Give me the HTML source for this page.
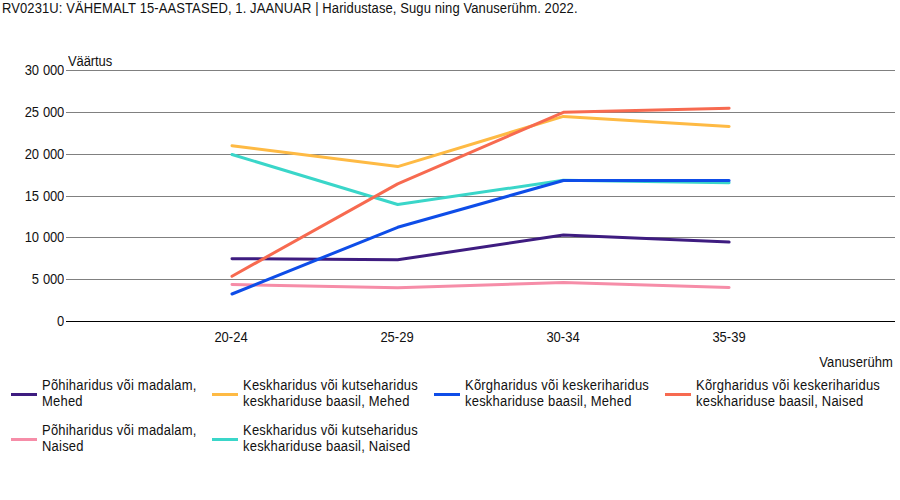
<!DOCTYPE html>
<html><head><meta charset="utf-8">
<style>
html,body{margin:0;padding:0;background:#fff;}
body{width:900px;height:500px;position:relative;overflow:hidden;font-family:"Liberation Sans",sans-serif;font-size:13px;color:#111;}
.s{transform:scaleY(1.075);transform-origin:0 0;}
.t{position:absolute;white-space:nowrap;line-height:15px;}
.yl{position:absolute;right:836px;white-space:nowrap;line-height:15px;text-align:right;word-spacing:0.8px;letter-spacing:-0.2px;}
.xl{position:absolute;width:60px;text-align:center;line-height:15px;}
.lg{position:absolute;line-height:14.88px;white-space:nowrap;letter-spacing:0.21px;}
.ll{position:absolute;width:26px;height:3px;}
svg{position:absolute;left:0;top:0;}
</style></head><body>
<div class="t s" style="left:2px;top:0px;letter-spacing:0.1px;">RV0231U: VÄHEMALT 15-AASTASED, 1. JAANUAR | Haridustase, Sugu ning Vanuserühm. 2022.</div>
<div class="t s" style="left:68px;top:53px;letter-spacing:-0.1px;">Väärtus</div>
<svg width="900" height="500" viewBox="0 0 900 500">
<g stroke="#808080" stroke-width="1" shape-rendering="crispEdges">
<line x1="66" y1="70.5" x2="895" y2="70.5"/>
<line x1="66" y1="112.5" x2="895" y2="112.5"/>
<line x1="66" y1="154.5" x2="895" y2="154.5"/>
<line x1="66" y1="196.5" x2="895" y2="196.5"/>
<line x1="66" y1="237.5" x2="895" y2="237.5"/>
<line x1="66" y1="279.5" x2="895" y2="279.5"/>
</g>
<line x1="66" y1="321.5" x2="895" y2="321.5" stroke="#000" stroke-width="1" shape-rendering="crispEdges"/>
<g fill="none" stroke-width="3" stroke-linecap="round" stroke-linejoin="round">
<polyline stroke="#3e1c80" points="232,258.7 397.7,259.8 563.4,235.1 729.1,242.1"/>
<polyline stroke="#f68da8" points="232,284.5 397.7,287.8 563.4,282.4 729.1,287.5"/>
<polyline stroke="#feba44" points="232,145.7 397.7,166.6 563.4,116.4 729.1,126.4"/>
<polyline stroke="#3ad6c9" points="232,154.5 397.7,204.5 563.4,180.3 729.1,182.8"/>
<polyline stroke="#0e4de8" points="232,294 397.7,227.3 563.4,180.5 729.1,180.5"/>
<polyline stroke="#f76a50" points="232,276.2 397.7,183.9 563.4,112.3 729.1,108.2"/>
</g>
</svg>
<div class="yl s" style="top:62px;">30 000</div>
<div class="yl s" style="top:104px;">25 000</div>
<div class="yl s" style="top:146px;">20 000</div>
<div class="yl s" style="top:188px;">15 000</div>
<div class="yl s" style="top:229px;">10 000</div>
<div class="yl s" style="top:271px;">5 000</div>
<div class="yl s" style="top:313px;">0</div>
<div class="xl s" style="left:201px;top:329px;">20-24</div>
<div class="xl s" style="left:367px;top:329px;">25-29</div>
<div class="xl s" style="left:533px;top:329px;">30-34</div>
<div class="xl s" style="left:699px;top:329px;">35-39</div>
<div class="t s" style="right:7px;top:354px;letter-spacing:0.1px;">Vanuserühm</div>

<div class="ll" style="left:11px;top:393px;background:#3e1c80"></div>
<div class="lg s" style="left:42px;top:378px;">Põhiharidus või madalam,<br>Mehed</div>
<div class="ll" style="left:212px;top:393px;background:#feba44"></div>
<div class="lg s" style="left:243px;top:378px;">Keskharidus või kutseharidus<br>keskhariduse baasil, Mehed</div>
<div class="ll" style="left:434px;top:393px;background:#0e4de8"></div>
<div class="lg s" style="left:465px;top:378px;">Kõrgharidus või keskeriharidus<br>keskhariduse baasil, Mehed</div>
<div class="ll" style="left:665px;top:393px;background:#f76a50"></div>
<div class="lg s" style="left:696px;top:378px;">Kõrgharidus või keskeriharidus<br>keskhariduse baasil, Naised</div>

<div class="ll" style="left:11px;top:438px;background:#f68da8"></div>
<div class="lg s" style="left:42px;top:423px;">Põhiharidus või madalam,<br>Naised</div>
<div class="ll" style="left:212px;top:438px;background:#3ad6c9"></div>
<div class="lg s" style="left:243px;top:423px;">Keskharidus või kutseharidus<br>keskhariduse baasil, Naised</div>
</body></html>
